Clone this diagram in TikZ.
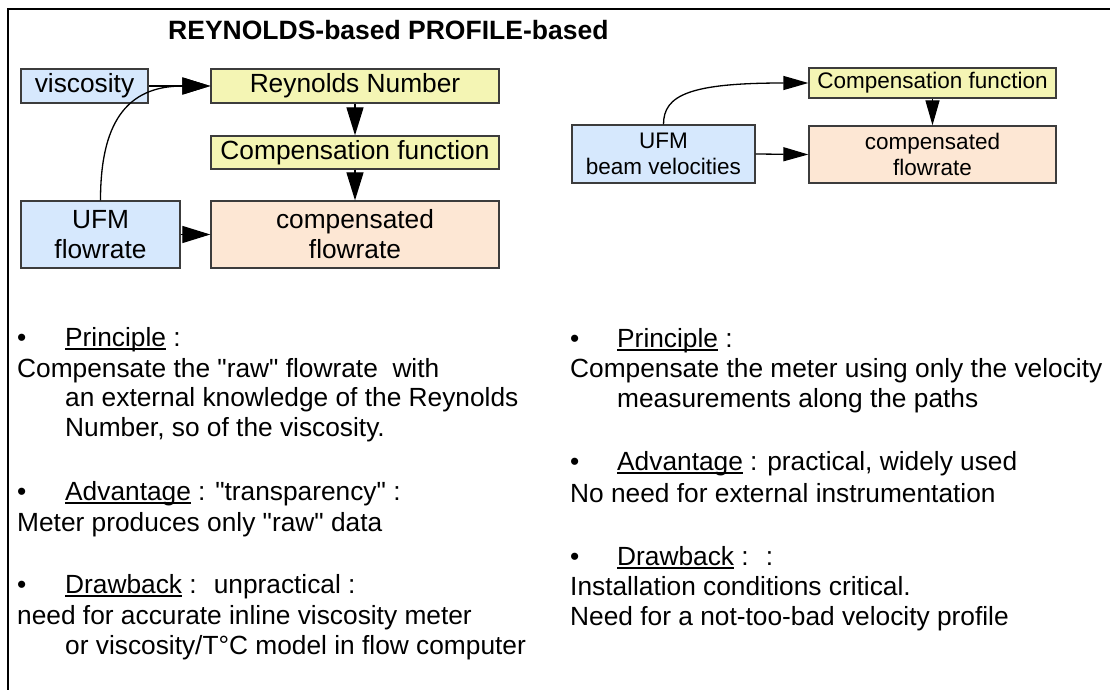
\documentclass[tikz,border=0pt]{standalone}
\usepackage{fontspec}
\newfontfamily\lsans{Liberation Sans}
\usetikzlibrary{arrows.meta}
\definecolor{boxblue}{HTML}{D6E8FD}
\definecolor{boxyellow}{HTML}{F4F5B4}
\definecolor{boxpeach}{HTML}{FDE7D4}
\definecolor{bordergray}{HTML}{3C3C3C}
\newcommand\myul[1]{\setbox0=\hbox{#1}\rlap{\rule[-3.5bp]{\wd0}{1.3bp}}\box0\relax}
\newcommand\mybul[1]{\makebox[#1][l]{•}}
\tikzset{
  box/.style={draw=bordergray, line width=1.3bp, inner sep=0pt, align=center, text=black},
  bigf/.style={font=\lsans\fontsize{26.3bp}{30bp}\selectfont},
  smallf/.style={font=\lsans\fontsize{22.5bp}{26bp}\selectfont},
  blue/.style={fill=boxblue},
  yel/.style={fill=boxyellow},
  peach/.style={fill=boxpeach},
  conn/.style={line width=1.3bp, -{Triangle[length=28bp,width=17bp]}},
  connsm/.style={line width=1.3bp, -{Triangle[length=25bp,width=14bp]}},
  txt/.style={anchor=base west, inner sep=0pt, font=\lsans\fontsize{26.3bp}{30bp}\selectfont},
}
\begin{document}
\begin{tikzpicture}[x=1bp, y=-1bp]
\useasboundingbox (0,0) rectangle (1110,690);
\fill[white] (0,0) rectangle (1110,690);
% frame
\draw[line width=1.3bp] (8,690) -- (8,9) -- (1110,9);
% title
\node[anchor=base west, inner sep=0pt, font=\lsans\bfseries\fontsize{26.5bp}{30bp}\selectfont] (title) at (168,40) {REYNOLDS-based PROFILE-based};

% left diagram
\node[box, blue, bigf, minimum width=127bp, minimum height=34bp] (visc) at (84.5,86) {viscosity};
\node[box, yel, bigf, minimum width=288bp, minimum height=34bp] (rn) at (355,86) {Reynolds Number};
\node[box, yel, bigf, minimum width=288bp, minimum height=33bp] (cfL) at (355,152.5) {Compensation function};
\node[box, blue, bigf, minimum width=159bp, minimum height=67bp] (ufL) at (100.5,234.5) {UFM\\flowrate};
\node[box, peach, bigf, minimum width=288bp, minimum height=67bp] (cpL) at (355,234.5) {compensated\\flowrate};

\draw[conn] (visc.east) -- (rn.west);
\draw[conn] (ufL.north) .. controls (100.5,125) and (125,86) .. (rn.west);
\draw[conn] (rn.south) -- (cfL.north);
\draw[conn] (cfL.south) -- (cpL.north);
\draw[conn] (ufL.east) -- (cpL.west);

% right diagram
\node[box, yel, smallf, minimum width=247bp, minimum height=30bp] (cfR) at (932.5,83) {Compensation function};
\node[box, peach, smallf, minimum width=247bp, minimum height=57bp] (cpR) at (932.5,154.5) {compensated\\flowrate};
\node[box, blue, smallf, minimum width=183bp, minimum height=58bp] (ufR) at (663.5,154) {UFM\\beam velocities};

\draw[connsm] (ufR.north) .. controls (663.5,95) and (690,83) .. (cfR.west);
\draw[connsm] (ufR.east) -- (cpR.west);
\draw[connsm] (cfR.south) -- (cpR.north);

% left text
\node[txt] (l1) at (17,346) {\mybul{48bp}\myul{Principle} :};
\node[txt] (l2) at (17,377) {Compensate the "raw" flowrate~ with};
\node[txt] (l3) at (65,406) {an external knowledge of the Reynolds};
\node[txt] (l4) at (65,436) {Number, so of the viscosity.};
\node[txt] (l5) at (17,500) {\mybul{48bp}\myul{Advantage} : "transparency" :};
\node[txt] (l6) at (17,531) {Meter produces only "raw" data};
\node[txt] (l7) at (17,593) {\mybul{48bp}\myul{Drawback} :~ unpractical :};
\node[txt] (l8) at (17,624) {need for accurate inline viscosity meter};
\node[txt] (l9) at (65,654) {or viscosity/T°C model in flow computer};

% right text
\node[txt] (r1) at (570,347) {\mybul{47bp}\myul{Principle} :};
\node[txt] (r2) at (570,377) {Compensate the meter using only the velocity};
\node[txt] (r3) at (617,407) {measurements along the paths};
\node[txt] (r4) at (570,470) {\mybul{47bp}\myul{Advantage} : practical, widely used};
\node[txt] (r5) at (570,502) {No need for external instrumentation};
\node[txt] (r6) at (570,565) {\mybul{47bp}\myul{Drawback} :~ :};
\node[txt] (r7) at (570,595) {Installation conditions critical.};
\node[txt] (r8) at (570,625) {Need for a not-too-bad velocity profile};
\end{tikzpicture}
\end{document}
